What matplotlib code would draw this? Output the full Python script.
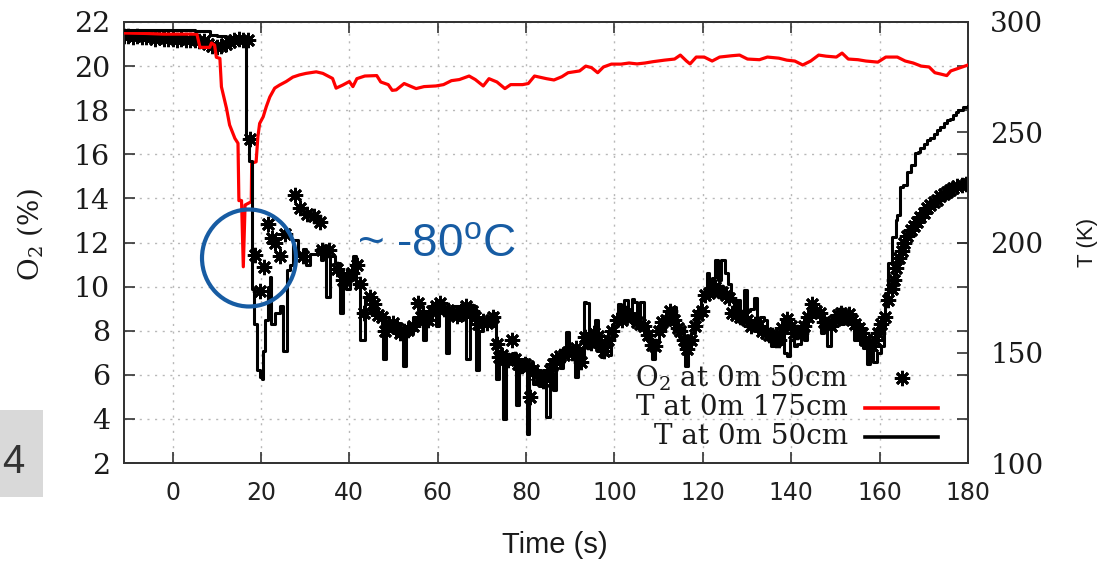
import matplotlib
matplotlib.use("Agg")
import matplotlib.pyplot as plt
from matplotlib.patches import Ellipse, Rectangle
from matplotlib.lines import Line2D

plt.rcParams['mathtext.fontset'] = 'dejavuserif'

# ---------------- data ----------------
# O2 at 0m 50cm (%), left axis
o2_time = [-11, -10, -9, -8, -7, -6, -5, -4, -3, -2, -1, 0, 1, 2, 3, 4, 5, 6, 7, 8,
           9, 10, 11, 12, 13, 14, 15, 16, 17,
           17.6, 18.7, 19.8, 20.6, 21.7, 22.6, 23.2, 24.4, 25.5, 27.7, 28.9, 29.6, 30.4,
           31.9, 33.4, 33.8, 35.3, 37.1, 38.6, 39.5, 40.5, 41.7, 42.5, 43.2, 44.7, 45.6,
           46.5, 47.3, 48.0, 49.0, 49.9, 50.7, 51.4, 52.3, 53.3, 54.4, 55.6, 56.2, 57.2,
           57.9, 58.8, 59.7, 60.5, 61.5, 62.4, 63.3, 64.3, 65.2, 66.3, 67.2, 67.8, 68.5,
           69.2, 70.2, 71.1, 72.0, 72.6, 73.3, 73.8, 74.5, 75.2, 75.9, 76.7, 77.4, 78.2,
           79.0, 79.7, 80.5, 80.9, 81.6, 82.4, 83.1, 83.8, 84.6, 85.3, 86.1, 86.8, 87.6,
           88.5, 89.5, 90.3, 91.4, 92.5, 93.4, 94.0, 94.7, 95.4, 96.2, 97.0, 97.6, 98.5,
           99.5, 100.6, 101.6, 102.4, 102.9, 103.9, 105.1, 105.8, 106.6, 107.6, 108.5,
           109.1, 110.0, 110.8, 111.6, 112.6, 113.5, 114.3, 114.9, 115.7, 116.5, 117.4,
           118.3, 119.0, 119.7, 120.5, 121.3, 122.1, 122.8, 123.7, 124.4, 125.2, 126.0,
           126.7, 127.5, 128.3, 129.1, 129.9, 130.9, 131.7, 132.5, 133.3, 134.2, 135.0,
           135.7, 136.5, 137.2, 138.0, 139.1, 139.9, 140.6, 141.3, 142.2, 142.9, 143.8,
           144.7, 145.6, 146.6, 147.4, 148.2, 148.9, 149.8, 150.5, 151.2, 152.0, 153.0,
           153.8, 154.5, 155.3, 156.0, 156.8, 157.5, 158.3, 159.0, 159.7, 160.4, 161.3,
           162.0, 162.7, 163.3, 163.6, 164.4, 165.0, 165.6, 166.2, 167.0, 167.7, 168.5,
           169.2, 170.0, 170.7, 171.5, 172.2, 173.0, 173.7, 174.5, 175.2, 176.0, 176.7,
           177.6, 178.6, 179.5, 180.0]
o2_value = [21.35, 21.35, 21.3, 21.35, 21.3, 21.3, 21.3, 21.25, 21.3, 21.25, 21.25, 21.25,
            21.2, 21.25, 21.2, 21.2, 21.2, 21.15, 21.15, 21.0, 20.9, 20.85, 20.9, 21.0,
            21.1, 21.2, 21.25, 21.2, 21.2,
            16.7, 11.45, 9.8, 10.9, 12.85, 12.2, 12.0, 11.4, 12.4, 14.15, 13.55, 11.4, 13.3,
            13.2, 12.95, 11.65, 11.65, 10.8, 10.3, 10.5, 10.6, 11.0, 10.1, 8.8, 9.55, 9.2,
            8.7, 8.6, 8.0, 8.3, 8.35, 8.1, 7.9, 8.0, 8.05, 8.2, 9.25, 8.6, 8.55,
            8.5, 8.9, 9.1, 9.25, 9.0, 8.95, 8.8, 8.65, 8.9, 9.1, 8.95, 8.9, 8.6,
            8.3, 8.45, 8.35, 8.5, 8.6, 7.4, 6.8, 6.9, 6.7, 6.65, 7.6, 6.7, 6.5,
            6.4, 6.5, 6.4, 5.0, 6.2, 6.0, 5.9, 5.7, 5.9, 6.2, 6.5, 6.7, 6.85,
            6.9, 7.05, 7.0, 7.2, 6.6, 7.7, 7.5, 7.45, 7.9, 7.75, 7.3, 7.1, 7.6,
            8.0, 8.5, 8.5, 8.7, 8.8, 8.6, 8.4, 8.3, 8.2, 7.8, 7.35,
            7.3, 8.0, 8.4, 8.5, 8.9, 8.5, 8.1, 8.0, 7.6, 7.15, 7.6,
            8.2, 8.7, 8.9, 9.6, 9.7, 9.9, 10.0, 9.8, 9.75, 9.6, 9.5,
            8.8, 8.7, 8.64, 8.6, 8.5, 8.2, 8.3, 8.2, 8.0, 7.9, 7.8,
            7.8, 7.6, 7.6, 8.1, 8.55, 8.2, 7.9, 7.95, 7.9, 8.2, 8.6,
            9.2, 8.9, 8.8, 8.4, 8.3, 8.2, 8.5, 8.7, 8.8, 8.7, 8.75,
            8.5, 8.3, 8.1, 7.9, 7.6, 7.45, 7.3, 7.6, 7.9, 8.3, 8.6,
            9.4, 9.9, 10.3, 10.85, 11.3, 11.6, 12.0, 12.3, 12.55, 12.75, 12.95,
            13.15, 13.35, 13.55, 13.7, 13.85, 13.95, 14.1, 14.2, 14.3, 14.4, 14.45,
            14.55, 14.6, 14.65, 14.65]

# T at 0m 175cm (K), right axis
t175_time = [-11, -6, -2, 2, 5.5, 6.2, 8.4, 8.8, 9.5, 9.9, 10.7, 11.05, 12.2, 12.9, 14.1,
             14.8, 15.0, 15.6, 16.0, 16.4, 17.8, 17.9, 18.9, 19.3, 19.7, 20.5, 21.2, 22.0,
             23.1, 24.2, 25.7, 27.2, 28.7, 30.2, 32.5, 34.0, 36.2, 37.0, 38.5, 40.0, 40.8,
             41.7, 43.5, 46.2, 47.1, 48.8, 49.7, 50.6, 52.4, 55.1, 56.9, 59.6, 61.3, 63.1,
             64.9, 67.1, 68.5, 70.3, 71.6, 73.4, 75.2, 76.5, 79.2, 80.5, 81.9, 84.6, 86.3,
             88.1, 89.5, 92.1, 93.5, 94.8, 96.2, 97.5, 99.3, 101.5, 103.3, 105.1, 106.9,
             108.7, 111.3, 113.6, 114.9, 116.3, 117.1, 118.5, 120.3, 122.1, 123.8, 126.5,
             128.3, 130.1, 132.8, 134.6, 137.2, 139.0, 140.8, 142.6, 144.4, 146.2, 147.9,
             150.2, 151.5, 152.9, 155.1, 156.9, 159.6, 161.4, 164.0, 165.8, 167.6, 169.4,
             171.2, 172.5, 173.8, 175.2, 176.1, 177.4, 180.0]
t175_value = [295, 294.8, 294.5, 294.5, 294.5, 288.5, 288.5, 290.5, 289.5, 284, 283.5, 270.6,
              260.8, 253.3, 247.2, 245, 219, 219, 189, 217, 218.5, 236, 236.6, 248, 254,
              257, 261.6, 266, 270, 271.4, 273, 275, 276, 276.7, 277.4, 276.7, 274.4, 270,
              271.4, 273, 270.7, 274.3, 275.5, 275.7, 272.8, 271.6, 269, 269.2, 272.1,
              269.8, 270.7, 271, 271.6, 273.4, 273.9, 275.5, 273.9, 271, 274.3, 272.8,
              269.8, 271.6, 271.6, 272.1, 275.5, 274.3, 273.7, 275.2, 277, 277.8, 280,
              279.3, 277, 279.6, 280.9, 280.9, 281.4, 281, 281.4, 282, 282.7, 283.2, 285,
              282.3, 281, 284.1, 284.1, 282.3, 284.1, 284.7, 285, 283.2, 282.9, 284.1,
              283.6, 282.7, 282.3, 280.5, 282.3, 285, 284.5, 284.1, 285.9, 283.2, 282.9,
              282.3, 281.8, 284.1, 284.1, 282.3, 281.4, 280, 279.6, 277, 276.4, 275.7,
              277.8, 278.7, 280.5]

# T at 0m 50cm (K), right axis
t50_time = [-11, -5, 0, 5, 8.5, 10, 12, 14, 16.6, 17.3, 18.0, 18.4, 19.0, 19.7, 20.2, 20.5,
            20.9, 21.6, 22.0, 22.2, 23.2, 24.3, 25.0, 25.8, 26.6, 27.3, 28.4, 29.5, 30.2,
            31.1, 32.6, 33.5, 34.1, 34.8, 35.6, 36.7, 37.8, 38.6, 39.3, 40.1, 40.8, 41.5,
            42.3, 43.5, 44.6, 45.4, 46.1, 47.6, 48.3, 49.1, 50.6, 51.3, 52.1, 52.8, 53.6,
            54.4, 55.1, 55.8, 56.6, 57.3, 58.1, 58.8, 59.6, 60.3, 61.0, 61.9, 62.6, 63.5,
            64.9, 65.7, 66.4, 67.2, 67.9, 68.6, 69.3, 70.2, 71.3, 72.4, 72.6, 73.2, 73.9,
            74.8, 75.4, 76.1, 76.9, 77.8, 78.5, 79.2, 80.1, 80.6, 81.5, 82.4, 83.2, 84.6,
            85.3, 86.1, 86.8, 87.6, 88.4, 89.1, 89.8, 91.0, 91.7, 92.4, 93.0, 93.6, 94.2,
            95.0, 95.6, 96.3, 97.0, 97.6, 98.4, 99.2, 100.0, 100.9, 101.5, 102.1, 103.0,
            103.9, 104.4, 105.1, 105.8, 106.6, 107.3, 108.0, 108.5, 109.1, 110.0, 110.7,
            111.4, 112.2, 113.3, 114.0, 114.6, 115.3, 115.9, 116.6, 117.3, 118.1, 118.8,
            119.5, 120.2, 120.9, 121.5, 122.1, 122.8, 123.5, 124.2, 125.0, 125.6, 126.3,
            127.0, 127.7, 128.5, 129.2, 129.9, 130.6, 131.6, 132.3, 133.0, 133.9, 134.6,
            135.4, 136.1, 136.9, 137.6, 138.4, 139.1, 139.8, 140.6, 141.4, 142.1, 142.9,
            143.6, 144.4, 145.1, 145.9, 146.7, 147.4, 148.2, 148.9, 149.7, 150.4, 151.2,
            152.0, 152.7, 153.4, 154.1, 154.9, 155.6, 156.3, 157.2, 157.8, 158.5, 159.4,
            160.2, 160.9, 161.3, 162.0, 162.8, 163.6, 164.0, 164.7, 165.4, 166.2, 167.0,
            168.0, 168.6, 169.2, 170.0, 170.7, 171.5, 172.2, 173.0, 173.7, 174.5, 175.2,
            176.0, 176.7, 177.3, 177.8, 178.9, 180.0]
t50_value = [296.5, 296.5, 296.2, 296, 294, 293.5, 293, 293, 248, 237, 179, 163, 142, 139, 138,
             151, 165, 180, 184.5, 163, 168, 171, 151, 187.5, 190, 201, 194, 197, 190,
             195, 197, 192, 194, 175.5, 194, 190.5, 168, 181.5, 179, 183, 194, 180,
             156, 175.5, 168, 172, 166.5, 147, 162, 160.5, 157.5, 161, 144, 158, 159,
             166, 163.5, 171, 156, 164, 165, 169, 162, 170, 168, 150, 168, 171,
             165, 168, 147, 169, 168, 142, 160, 162, 164, 162, 168, 138, 147,
             120, 146, 148, 150, 126.5, 145, 147, 113, 140, 136, 142, 135, 121,
             140, 133, 147, 143, 152, 159.6, 150, 139, 152, 148, 173, 172.5, 155,
             157, 165, 153, 148, 155, 149, 156, 162, 172, 165, 174, 166,
             174.5, 173, 165, 173, 161, 156, 155, 147, 156, 163, 160,
             165, 163, 170.7, 161, 157, 152, 144, 153, 159, 162, 169,
             174, 178, 186, 179, 184, 192, 183, 192, 186, 181, 175,
             168, 174, 167, 178.5, 169, 170, 175, 163, 166, 165, 159,
             153, 157, 154, 162, 150, 148.4, 156, 153, 154, 159, 156,
             165, 173, 166, 168, 159, 163, 153, 161, 167, 169, 163,
             168, 163, 163, 156, 160, 154, 152, 145, 151, 146, 150,
             153, 162, 177, 190.6, 202.7, 210, 212.5, 225.3, 226, 232, 235,
             240.4, 241, 242.7, 244.5, 246.4, 247.5, 249.4, 251, 252.5, 254, 255.5,
             256.2, 257.7, 259, 260, 261.5, 261.8]

x_ticks = [0, 20, 40, 60, 80, 100, 120, 140, 160, 180]
o2_ticks = [2, 4, 6, 8, 10, 12, 14, 16, 18, 20, 22]
t_ticks = [100, 150, 200, 250, 300]
legend_labels = ["O$_2$ at 0m 50cm", "T at 0m 175cm", "T at 0m 50cm"]

# ---------------- figure ----------------
W, H = 1105, 561
fig = plt.figure(figsize=(W / 100, H / 100), dpi=100)
L, R, T, B = 124, 968, 22, 463
ax = fig.add_axes([L / W, 1 - B / H, (R - L) / W, (B - T) / H])
ax2 = ax.twinx()

serif = 'DejaVu Serif'
sans = 'DejaVu Sans'
frame_col = '#333333'
text_col = '#1a1a1a'

ax.set_xlim(-11, 180)
ax.set_ylim(2, 22)
ax2.set_ylim(100, 300)

star = (8, 2, 0)
ax.plot(o2_time, o2_value, linestyle='none', marker=star, markersize=11,
        markeredgewidth=2.0, color='black', zorder=3)
ax2.plot(t175_time, t175_value, color='#ff0000', lw=2.3, zorder=3)
ax2.plot(t50_time, t50_value, drawstyle='steps-post', color='black', lw=2.2, zorder=4)

# grid
ax.set_xticks(x_ticks)
ax.set_yticks(o2_ticks)
ax.grid(True, color='#b8b8b8', linestyle=(0, (1.5, 4)), lw=1.0)
ax.set_axisbelow(True)

ax.tick_params(axis='both', direction='in', length=8, width=1.2, color=frame_col,
               top=True, right=True)
ax.tick_params(axis='y', labelsize=20.5, pad=10, labelcolor=text_col)
ax.tick_params(axis='x', labelsize=17, pad=13, labelcolor='#222222')
for lab in ax.get_yticklabels():
    lab.set_fontfamily(serif)
for lab in ax.get_xticklabels():
    lab.set_fontfamily(sans)

ax2.set_yticks(t_ticks)
ax2.tick_params(axis='y', direction='in', length=8, width=1.2, color=frame_col,
                labelsize=20, pad=16, labelcolor=text_col)
for lab in ax2.get_yticklabels():
    lab.set_fontfamily(serif)

for a in (ax, ax2):
    for s in a.spines.values():
        s.set_color(frame_col)
        s.set_linewidth(1.3)

# legend (drawn by hand in axes fraction)
rows = [0.193, 0.125, 0.059]
xt = (848 - L) / (R - L)
x0, x1 = (865 - L) / (R - L), (938 - L) / (R - L)
xs = (902 - L) / (R - L)
for lab, y in zip(legend_labels, rows):
    ax2.text(xt, y, lab, transform=ax2.transAxes, ha='right', va='center',
             fontsize=20, family=serif, color=text_col, zorder=6)
ax2.add_line(Line2D([xs], [rows[0]], transform=ax2.transAxes, marker=star,
                    markersize=11, markeredgewidth=2.0, color='black', linestyle='none'))
ax2.add_line(Line2D([x0, x1], [rows[1], rows[1]], transform=ax2.transAxes,
                    color='#ff0000', lw=2.6))
ax2.add_line(Line2D([x0, x1], [rows[2], rows[2]], transform=ax2.transAxes,
                    color='black', lw=2.6))

# axis labels
fig.text(30 / W, 1 - 235 / H, "O$_2$ (%)", rotation=90, ha='center', va='center',
         fontsize=20, family=serif, color=text_col)
fig.text(1087 / W, 1 - 242 / H, "T (K)", rotation=90, ha='center', va='center',
         fontsize=16, family='Liberation Sans', color=text_col)
fig.text(555 / W, 1 - 545 / H, "Time (s)", ha='center', va='center',
         fontsize=21, family='Liberation Sans', color=text_col)

# annotation: circle and temperature text
blue = '#175ca3'
fig.patches.append(Ellipse((249 / W, 1 - 258 / H), 94 / W, 97 / H, transform=fig.transFigure,
                           fill=False, edgecolor=blue, lw=3, zorder=10))
fig.text(357 / W, 1 - 245 / H, "~ -80$^{\\mathregular{o}}$C", ha='left', va='center',
         fontsize=33, family='Liberation Sans', color=blue)

# slide number box
fig.patches.append(Rectangle((0, 1 - 497 / H), 43 / W, 87 / H, transform=fig.transFigure,
                             facecolor='#d9d9d9', edgecolor='none', zorder=0))
fig.text(2 / W, 1 - 462 / H, "4", ha='left', va='center', fontsize=29,
         family='Liberation Sans', color='#333333')

fig.savefig('out.png', dpi=100)
